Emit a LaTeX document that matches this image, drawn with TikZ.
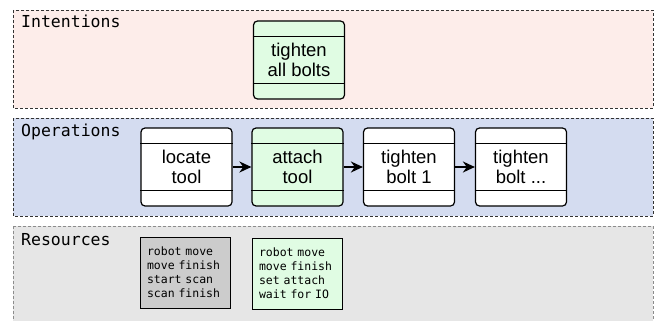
\documentclass[tikz,border=0pt]{standalone}
\usepackage{fontspec}
\setsansfont{Liberation Sans}
\setmonofont{DejaVu Sans Mono}
\usepackage{xcolor}
\usetikzlibrary{arrows.meta}

\definecolor{intentbg}{HTML}{FDEDEA}
\definecolor{operbg}{HTML}{D4DCF0}
\definecolor{resbg}{HTML}{E6E6E6}
\definecolor{activegreen}{HTML}{E0FCE3}
\definecolor{resgray}{HTML}{CCCCCC}

\begin{document}
\begin{tikzpicture}[
  x=1pt, y=-1pt,
  >={Stealth[length=12pt,width=11pt]},
  layer/.style={dash pattern=on 3pt off 2pt, line width=0.8pt},
  layerlabel/.style={anchor=base west, inner sep=0pt, font=\ttfamily\fontsize{16.5}{18}\selectfont},
  opbox/.style={draw, rounded corners=4pt, line width=1.2pt, fill=white, minimum width=91pt, minimum height=78pt, align=center, inner sep=0pt, font=\sffamily\fontsize{18.5}{20}\selectfont},
  resbox/.style={draw, line width=0.9pt, text width=77pt, inner xsep=6.5pt, minimum height=71pt, align=left, font=\ttfamily\fontsize{11.5}{14}\selectfont}
]
\useasboundingbox (0,0) rectangle (661,321);
\clip (0,0) rectangle (661,321);

\filldraw[layer, fill=intentbg, draw=black!80] (13,10) rectangle (653,108);
\filldraw[layer, fill=operbg, draw=black!80] (13,118) rectangle (653,216);
\filldraw[layer, fill=resbg, draw=black!45] (13,226) rectangle (653,330);

\node[layerlabel] (intlabel) at (21,27.5) {Intentions};
\node[layerlabel] (oplabel) at (21,136.5) {Operations};
\node[layerlabel] (reslabel) at (21,245) {Resources};

\node[opbox, fill=activegreen] (allbolts) at (299,60) {tighten\\all bolts};

\node[opbox] (locate) at (186.5,167) {locate\\tool};
\node[opbox, fill=activegreen] (attach) at (297.5,167) {attach\\tool};
\node[opbox] (bolt1) at (409,167) {tighten\\bolt 1};
\node[opbox] (boltn) at (521,167) {tighten\\bolt ...};

\foreach \n in {allbolts,locate,attach,bolt1,boltn} {
  \draw[line width=1pt] ([yshift=-16pt]\n.north west) -- ([yshift=-16pt]\n.north east);
  \draw[line width=1pt] ([yshift=16pt]\n.south west) -- ([yshift=16pt]\n.south east);
}

\draw[->, line width=2pt] (locate) -- (attach);
\draw[->, line width=2pt] (attach) -- (bolt1);
\draw[->, line width=2pt] (bolt1) -- (boltn);

\node[resbox, fill=resgray] (scanres) at (185.5,272.5) {robot move\\move finish\\start scan\\scan finish};
\node[resbox, fill=activegreen] (attachres) at (297.5,273.5) {robot move\\move finish\\set attach\\wait for IO};
\end{tikzpicture}
\end{document}
